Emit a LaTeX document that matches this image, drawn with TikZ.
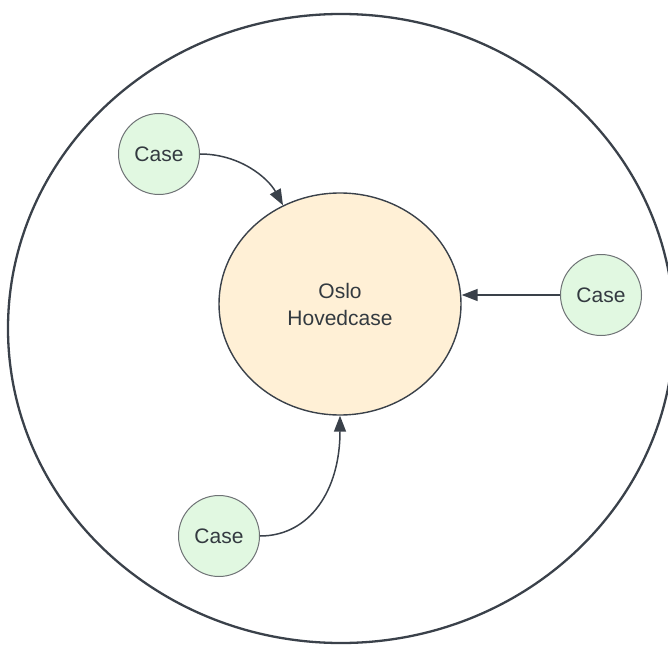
\documentclass[tikz,border=0pt]{standalone}
\usepackage{fontspec}
\setmainfont{Liberation Sans}
\usetikzlibrary{shapes.geometric,arrows.meta}
\definecolor{linedark}{HTML}{3A414A}
\definecolor{casefill}{HTML}{E1F8E1}
\definecolor{caseedge}{HTML}{6E7275}
\definecolor{mainfill}{HTML}{FFF0D6}
\definecolor{textdark}{HTML}{333A40}
\tikzset{
  casenode/.style={circle, draw=caseedge, line width=1pt, fill=casefill, minimum size=81pt, inner sep=0pt, text=textdark, font=\fontsize{21}{25}\selectfont},
  mainnode/.style={ellipse, draw=linedark, line width=1.4pt, fill=mainfill, minimum width=242pt, minimum height=222pt, inner sep=0pt, align=center, text=textdark, font=\fontsize{21}{27}\selectfont},
  outer/.style={ellipse, draw=linedark, line width=2.3pt, minimum width=666pt, minimum height=629pt, inner sep=0pt},
  conn/.style={draw=linedark, line width=1.5pt, -{Triangle[length=16pt,width=12pt]}}
}
\begin{document}
\begin{tikzpicture}[x=1pt,y=-1pt]
\useasboundingbox (0,0) rectangle (668,644);
\node[outer] (frame) at (341,328.5) {};
\node[mainnode] (main) at (340,304) {Oslo\\Hovedcase};
\node[casenode] (c1) at (159,154) {Case};
\node[casenode] (c2) at (601,295) {Case};
\node[casenode] (c3) at (219,536) {Case};
\draw[conn] (c1.east) .. controls (240,154) and (268,178) .. (main.120);
\draw[conn] (c2.west) -- (main.east |- c2.west);
\draw[conn] (c3.east) .. controls (310,536) and (340,490) .. (main.south);
\end{tikzpicture}
\end{document}
